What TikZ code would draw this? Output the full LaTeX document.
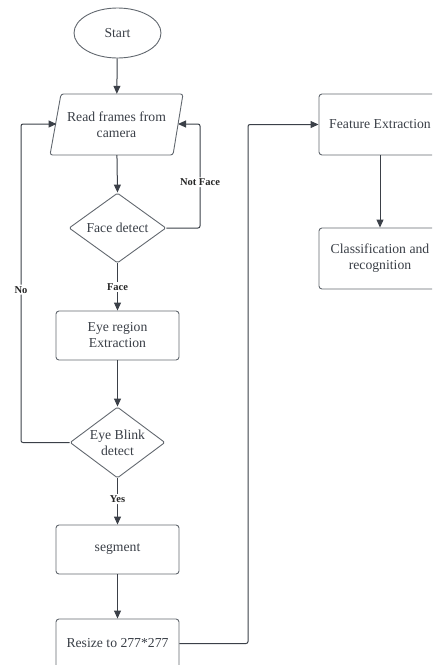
\documentclass[tikz,border=0pt]{standalone}
\usepackage{fontspec}
\setmainfont{Liberation Serif}
\usetikzlibrary{shapes.geometric,arrows.meta}

\definecolor{linec}{HTML}{3B4048}
\definecolor{shapec}{HTML}{62686F}
\definecolor{textc}{HTML}{3A3F47}

\tikzset{
  every node/.style={text=textc, font=\fontsize{13.7}{16}\selectfont},
  procbox/.style={draw=shapec, line width=0.9pt, rounded corners=3pt,
    minimum width=123pt, minimum height=49pt, align=center, inner sep=0pt},
  tallbox/.style={procbox, minimum width=122pt, minimum height=61pt},
  decision/.style={draw=shapec, line width=0.9pt, diamond, rounded corners=1.5pt,
    inner sep=0pt},
  terminal/.style={draw=shapec, line width=0.9pt, ellipse,
    minimum width=87pt, minimum height=50pt},
  flow/.style={draw=linec, line width=1pt, rounded corners=2pt,
    -{Triangle[length=8pt,width=7pt]}},
  edgelabel/.style={fill=white, inner sep=1.5pt,
    font=\fontsize{10.5}{12}\selectfont\bfseries, text=black!85},
}

\begin{document}
\begin{tikzpicture}[x=1pt, y=-1pt]
  \path[use as bounding box, clip] (0,0) rectangle (432,665);

  % start terminal
  \node[terminal] (start) at (117.5,33) {Start};

  % input parallelogram: outline drawn as a path, text node carries the anchors
  \draw[shapec, line width=0.9pt, rounded corners=2.5pt]
    (61,94) -- (183,94) -- (173,155) -- (50,155) -- cycle;
  \node[minimum width=112pt, minimum height=61pt, align=center, inner sep=0pt]
    (read) at (116.5,124.5) {Read frames from\\camera};
  \coordinate (readL) at (56.5,124);
  \coordinate (readR) at (178,124);

  % face detection decision
  \node[decision, minimum width=97pt, minimum height=70pt] (face) at (117.5,228) {};
  \node (facetxt) at (face) {Face detect};

  % eye region extraction
  \node[procbox] (eyereg) at (117.5,335.5) {Eye region\\Extraction};

  % eye blink decision
  \node[decision, minimum width=95pt, minimum height=71pt] (blink) at (117.5,442.5) {};
  \node[align=center] (blinktxt) at (blink) {Eye Blink\\detect};

  % segmentation and resizing
  \node[procbox] (seg) at (117.5,549.5) {segment};
  \node[procbox] (resize) at (117.5,643.5) {Resize to 277*277};

  % right column
  \node[tallbox] (feat) at (380,124.5) {Feature Extraction};
  \node[tallbox] (cls) at (380,258.5) {Classification and\\recognition};

  % corner points of the loop-back connectors
  \coordinate (nfR) at (200,228);
  \coordinate (nfT) at (200,124);
  \coordinate (noB) at (21,442.5);
  \coordinate (noT) at (21,124);
  \coordinate (rsR) at (248,643.5);
  \coordinate (rsT) at (248,124.5);

  % main flow
  \draw[flow] (start) -- (read);
  \draw[flow] (read) -- (face.north);
  \draw[flow] (face.south) -- node[edgelabel, pos=0.5] (lface) {Face} (eyereg.north);
  \draw[flow] (eyereg) -- (blink.north);
  \draw[flow] (blink.south) -- node[edgelabel, pos=0.45] (lyes) {Yes} (seg.north);
  \draw[flow] (seg) -- (resize);
  \draw[flow] (feat) -- (cls);

  % loops back to the camera input
  \draw[flow] (face.east) -- (nfR) -- node[edgelabel, pos=0.44] (lnotface) {Not Face} (nfT) -- (readR);
  \draw[flow] (blink.west) -- (noB) -- node[edgelabel, pos=0.48] (lno) {No} (noT) -- (readL);

  % resized image to feature extraction
  \draw[flow] (resize.east) -- (rsR) -- (rsT) -- (feat.west);
\end{tikzpicture}
\end{document}
